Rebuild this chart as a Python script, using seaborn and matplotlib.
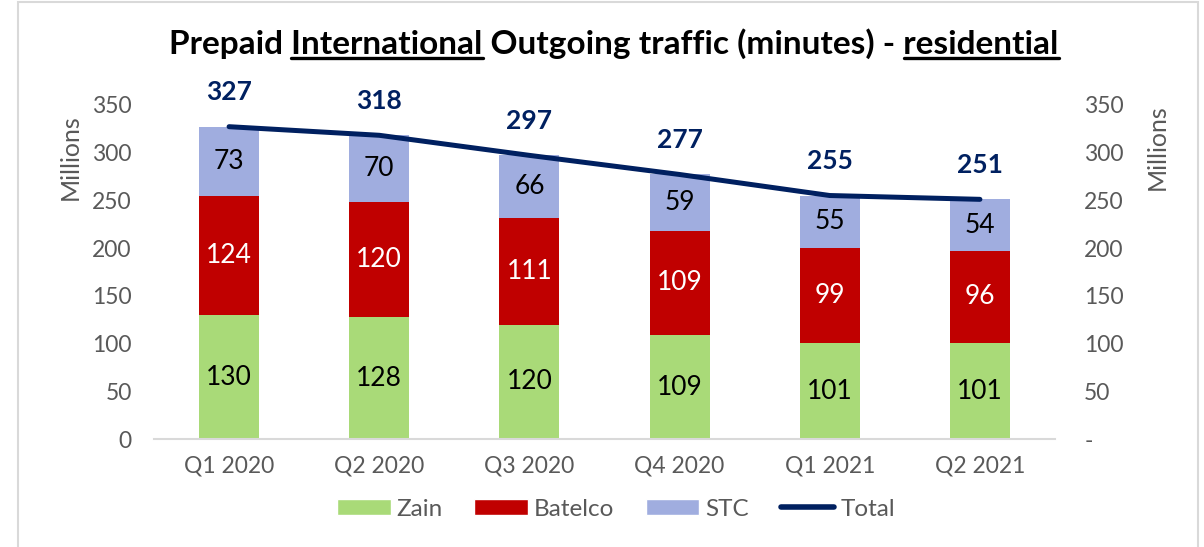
import matplotlib
matplotlib.use("Agg")
import matplotlib.pyplot as plt
import seaborn as sns
import numpy as np
import pandas as pd
from matplotlib.patches import Patch, Rectangle
from matplotlib.lines import Line2D

quarters = ["Q1 2020", "Q2 2020", "Q3 2020", "Q4 2020", "Q1 2021", "Q2 2021"]
zain = [130, 128, 120, 109, 101, 101]
batelco = [124, 120, 111, 109, 99, 96]
stc = [73, 70, 66, 59, 55, 54]
total = [327, 318, 297, 277, 255, 251]
yticks = [0, 50, 100, 150, 200, 250, 300, 350]
right_labels = ["-", "50", "100", "150", "200", "250", "300", "350"]

C_ZAIN = "#A9DA78"
C_BAT = "#C00000"
C_STC = "#A0ADDF"
C_TOT = "#002060"
GRAY = "#595959"
FONT = "Lato"
TITLE_FS = 24

sns.set_theme(style="white")
plt.rcParams["font.family"] = [FONT, "DejaVu Sans"]

fig = plt.figure(figsize=(12.04, 5.47), dpi=100)
ax = fig.add_axes([154 / 1204, 1 - 439.3 / 547, (1055 - 154) / 1204, (439.3 - 104.7) / 547])

df = pd.DataFrame({"q": quarters, "zain": zain, "batelco": batelco, "stc": stc})
df["zb"] = df["zain"] + df["batelco"]
df["zbs"] = df["zb"] + df["stc"]

sns.barplot(data=df, x="q", y="zbs", color=C_STC, saturation=1, width=0.4, ax=ax, linewidth=0)
sns.barplot(data=df, x="q", y="zb", color=C_BAT, saturation=1, width=0.4, ax=ax, linewidth=0)
sns.barplot(data=df, x="q", y="zain", color=C_ZAIN, saturation=1, width=0.4, ax=ax, linewidth=0)

xs = np.arange(len(quarters))
sns.lineplot(x=xs, y=total, color=C_TOT, linewidth=3.6, ax=ax, solid_capstyle="round")

for i in range(len(quarters)):
    ax.text(i, zain[i] / 2, str(zain[i]), ha="center", va="center", fontsize=19, color="black")
    ax.text(i, zain[i] + batelco[i] / 2, str(batelco[i]), ha="center", va="center", fontsize=19, color="white")
    ax.text(i, zain[i] + batelco[i] + stc[i] / 2, str(stc[i]), ha="center", va="center", fontsize=19, color="black")
    ax.annotate(str(total[i]), (i, total[i]), xytext=(0, 25), textcoords="offset points",
                ha="center", va="center", fontsize=19, fontweight="bold", color=C_TOT)

ax.set_xlim(-0.5, len(quarters) - 0.5)
ax.set_ylim(0, 350)
ax.set_yticks(yticks)
ax.set_yticklabels([str(v) for v in yticks])
ax.set_xlabel("")
ax.set_ylabel("")
for s in ["top", "right", "left"]:
    ax.spines[s].set_visible(False)
ax.spines["bottom"].set_color("#D9D9D9")
ax.spines["bottom"].set_linewidth(1.5)
ax.tick_params(axis="y", length=0, pad=16, labelsize=16.5, labelcolor=GRAY)
ax.tick_params(axis="x", length=0, pad=12, labelsize=16.5, labelcolor=GRAY)

ax2 = ax.twinx()
ax2.set_ylim(0, 350)
ax2.set_yticks(yticks)
ax2.set_yticklabels(right_labels)
ax2.tick_params(axis="y", length=0, pad=21, labelsize=16.5, labelcolor=GRAY)
for s in ["top", "right", "left", "bottom"]:
    ax2.spines[s].set_visible(False)
ax2.grid(False)

fig.text(70 / 1204, 1 - 157 / 547, "Millions", rotation=90, ha="center", va="center", fontsize=18, color=GRAY)
fig.text(1157 / 1204, 1 - 147 / 547, "Millions", rotation=90, ha="center", va="center", fontsize=18, color=GRAY)

# Title with underlined words
title = "Prepaid International Outgoing traffic (minutes) - residential"
tx, ty = 614 / 1204, 1 - 44 / 547
tt = fig.text(tx, ty, title, ha="center", va="center", fontsize=TITLE_FS, fontweight="bold", color="black")
fig.canvas.draw()
r = fig.canvas.get_renderer()

def width_of(s):
    t = fig.text(0, 0, s, fontsize=TITLE_FS, fontweight="bold")
    w = t.get_window_extent(r).width
    t.remove()
    return w

bb = tt.get_window_extent(r)
left_px = bb.x0
for prefix, word in [("Prepaid ", "International"), ("Prepaid International Outgoing traffic (minutes) - ", "residential")]:
    w_pw = width_of(prefix + word)
    w_w = width_of(word)
    x0 = left_px + w_pw - w_w
    x1 = left_px + w_pw
    yline = bb.y0 + 1
    fig.add_artist(Line2D([x0 / 1204, x1 / 1204], [yline / 547, yline / 547], color="black", linewidth=2.4,
                          transform=fig.transFigure))

handles = [Patch(facecolor=C_ZAIN, label="Zain"), Patch(facecolor=C_BAT, label="Batelco"),
           Patch(facecolor=C_STC, label="STC"),
           Line2D([0], [0], color=C_TOT, linewidth=4, solid_capstyle="round", label="Total")]
leg = fig.legend(handles=handles, loc="center", bbox_to_anchor=(616 / 1204, 1 - 509 / 547), ncol=4,
                 frameon=False, fontsize=17.5, handlelength=2.2, handleheight=0.6, handletextpad=0.25,
                 columnspacing=1.3)
for t in leg.get_texts():
    t.set_color(GRAY)

fig.add_artist(Rectangle((18 / 1204, -0.01), (1198 - 18) / 1204, 1.01 - 2 / 547, fill=False,
                         edgecolor="#D9D9D9", linewidth=1.5, transform=fig.transFigure))

fig.savefig("out.png", dpi=100, facecolor="white")
